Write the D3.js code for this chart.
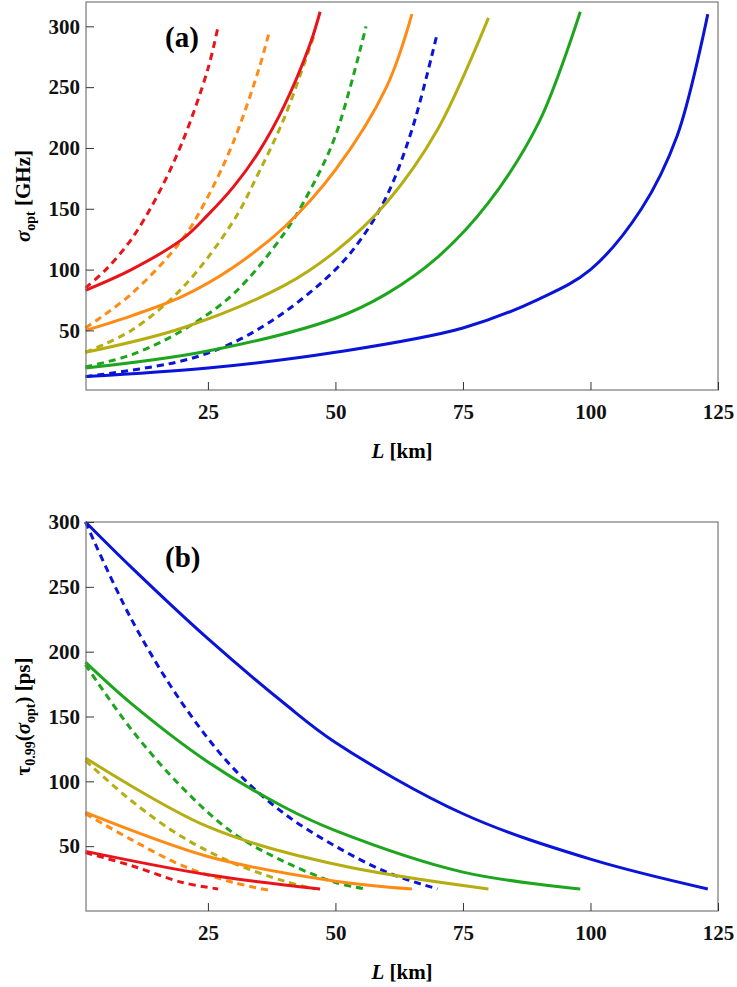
<!DOCTYPE html>
<html>
<head>
<style>
body { margin: 0; background: white; }
svg text { font-family: 'Liberation Serif', 'DejaVu Serif', serif; font-weight: bold; }
</style>
</head>
<body>
<svg id="plot" width="737" height="987"></svg>
<script src="https://cdn.jsdelivr.net/npm/d3@7"></script>
<script>
const colors = ['#e8141a', '#ff8a14', '#b5ad12', '#1ea51e', '#0a14d8'];
const xTicks = [25, 50, 75, 100, 125];
const yTicksA = [50, 100, 150, 200, 250, 300];
const yTicksB = [50, 100, 150, 200, 250, 300];

// panel (a): sigma_opt, solid and dashed, in order red, orange, olive, green, blue
const sigmaSolid = [
  [[1,83],[10,100],[20,125],[25,145],[30,168],[35,197],[40,235],[45,285],[47,312]],
  [[1,50],[10,62],[20,78],[30,102],[40,135],[50,182],[60,250],[65,310]],
  [[1,32],[20,52],[40,87],[50,115],[60,155],[70,215],[80,307]],
  [[1,19],[25,33],[50,60],[60,80],[70,110],[80,155],[90,222],[98,312]],
  [[1,12],[25,19],[50,32],[75,52],[90,76],[100,100],[110,150],[117,210],[123,310]]
];
const sigmaDashed = [
  [[1,85],[5,100],[10,125],[15,160],[20,205],[25,265],[27,300]],
  [[1,52],[10,80],[20,125],[25,160],[30,205],[35,265],[37,295]],
  [[1,32],[10,50],[20,85],[30,140],[35,180],[40,225],[46,295]],
  [[1,20],[10,30],[20,50],[30,80],[40,130],[45,165],[50,210],[56,300]],
  [[1,12],[20,25],[30,40],[40,65],[50,100],[55,125],[60,160],[65,215],[70,295]]
];
// panel (b): tau_0.99
const tauSolid = [
  [[1,46],[25,28],[47,17]],
  [[1,76],[25,42],[50,23],[65,17]],
  [[1,118],[25,65],[50,36],[80,17]],
  [[1,192],[10,160],[25,115],[40,80],[50,62],[75,30],[98,17]],
  [[1,300],[10,265],[25,210],[40,160],[50,130],[75,75],[100,40],[123,17]]
];
const tauDashed = [
  [[1,45],[10,35],[20,22],[27,17]],
  [[1,75],[10,55],[20,35],[30,22],[37,16]],
  [[1,116],[10,85],[20,57],[30,37],[40,23],[46,17]],
  [[1,190],[10,140],[20,95],[30,60],[40,38],[50,22],[56,17]],
  [[1,300],[10,225],[20,160],[30,110],[40,75],[50,50],[60,30],[70,17]]
];

const svg = d3.select('#plot');
const serif = "'Liberation Serif', 'DejaVu Serif', serif";

function panel(top, bottom, yDomain, yTicks, solid, dashed, tag, ylab) {
  const x = d3.scaleLinear().domain([1.1, 125]).range([86, 718]);
  const y = d3.scaleLinear().domain(yDomain).range([bottom, top]);
  const g = svg.append('g');

  const line = d3.line().x(d => x(d[0])).y(d => y(d[1])).curve(d3.curveCatmullRom);
  g.append('g').selectAll('path').data(dashed).join('path')
    .attr('d', line).attr('fill', 'none')
    .attr('stroke', (d, i) => colors[i]).attr('stroke-width', 3)
    .attr('stroke-dasharray', '7,5');
  g.append('g').selectAll('path').data(solid).join('path')
    .attr('d', line).attr('fill', 'none')
    .attr('stroke', (d, i) => colors[i]).attr('stroke-width', 3);

  g.append('rect').attr('x', 86).attr('y', top).attr('width', 718 - 86).attr('height', bottom - top)
    .attr('fill', 'none').attr('stroke', '#777').attr('stroke-width', 1.2);

  const xa = g.append('g').attr('transform', `translate(0,${bottom})`)
    .call(d3.axisBottom(x).tickValues(xTicks).tickSizeInner(-8).tickSizeOuter(0).tickPadding(14));
  const ya = g.append('g').attr('transform', 'translate(86,0)')
    .call(d3.axisLeft(y).tickValues(yTicks).tickSizeInner(-8).tickSizeOuter(0).tickPadding(6));
  [xa, ya].forEach(a => {
    a.select('.domain').remove();
    a.selectAll('line').attr('stroke', '#333');
    a.selectAll('text').attr('font-size', 21).attr('font-family', serif).attr('font-weight', 'bold').attr('fill', '#111');
  });

  g.append('text').attr('x', 165).attr('y', top + 45).text(tag)
    .attr('font-family', "'Liberation Sans', Arial, sans-serif").attr('font-size', 29).attr('font-weight', 'bold');

  const xl = g.append('text').attr('x', 402).attr('y', bottom + 68).attr('text-anchor', 'middle')
    .attr('font-size', 21).attr('font-family', serif);
  xl.append('tspan').attr('font-style', 'italic').text('L');
  xl.append('tspan').text(' [km]');

  const yl = g.append('text').attr('transform', `translate(30,${(top + bottom) / 2}) rotate(-90)`)
    .attr('text-anchor', 'middle').attr('font-size', 21).attr('font-family', serif);
  ylab(yl);
}

panel(2, 390, [1, 320], yTicksA, sigmaSolid, sigmaDashed, '(a)', t => {
  t.append('tspan').attr('font-style', 'italic').text('σ');
  t.append('tspan').attr('font-size', 14).attr('dy', 5).text('opt');
  t.append('tspan').attr('dy', -5).text(' [GHz]');
});
panel(522, 911, [0, 300], yTicksB, tauSolid, tauDashed, '(b)', t => {
  t.append('tspan').text('τ');
  t.append('tspan').attr('font-size', 14).attr('dy', 5).text('0.99');
  t.append('tspan').attr('dy', -5).text('(');
  t.append('tspan').attr('font-style', 'italic').text('σ');
  t.append('tspan').attr('font-size', 14).attr('dy', 5).text('opt');
  t.append('tspan').attr('dy', -5).text(') [ps]');
});
</script>
</body>
</html>
